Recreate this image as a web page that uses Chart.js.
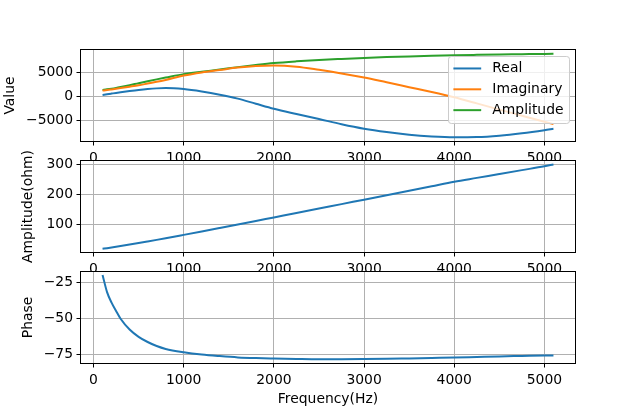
<!DOCTYPE html>
<html>
<head>
<meta charset="utf-8">
<script src="https://cdn.jsdelivr.net/npm/chart.js@4.4.0/dist/chart.umd.min.js"></script>
<style>
  body { margin: 0; background: #fff; }
  #wrap { position: relative; width: 640px; height: 409px; overflow: hidden; }
  canvas { position: absolute; left: 0; }
</style>
</head>
<body>
<div id="wrap">
  <canvas id="valueChart" width="640" height="175" style="top:0px"></canvas>
  <canvas id="ohmChart" width="640" height="145" style="top:140px"></canvas>
  <canvas id="phaseChart" width="640" height="154" style="top:255px"></canvas>
</div>
<script>
// values
const freq = [100, 150, 200, 250, 300, 400, 500, 600, 700, 800, 1000, 1200, 1400, 1600, 1800,
  2000, 2250, 2500, 2750, 3000, 3250, 3500, 3750, 4000, 4250, 4500, 4750, 5000, 5100];

const realPart = [340, 480, 620, 760, 890, 1140, 1370, 1560, 1700, 1770, 1560, 1060, 400, -420, -1480,
  -2520, -3600, -4640, -5720, -6650, -7350, -7900, -8250, -8420, -8380, -8100, -7600, -6950, -6650];

const imagPart = [1250, 1350, 1480, 1620, 1760, 2050, 2350, 2700, 3050, 3450, 4350, 5000, 5500, 6000, 6330,
  6450, 6200, 5550, 4800, 3940, 2950, 1950, 950, -140, -1400, -2700, -3950, -5200, -5700];

const amplitude = [1380, 1500, 1640, 1800, 1980, 2360, 2780, 3180, 3560, 3930, 4650, 5150, 5600, 6100, 6550,
  6950, 7300, 7580, 7800, 8000, 8170, 8320, 8450, 8560, 8640, 8710, 8770, 8830, 8850];

const amplitudeOhm = [17, 19.2, 21.5, 23.9, 26.3, 31.2, 36.3, 41.6, 47, 52.5, 63.8, 75.2, 86.8, 98.5, 110.3,
  122.2, 137, 152, 167, 182, 197, 212, 227, 242, 255, 268, 281, 294, 300];

const phase = [-19.5, -31.5, -38.8, -44.6, -50, -57.5, -62.6, -66.2, -69, -71, -73.3, -74.9, -76, -76.9, -77.4,
  -77.7, -78, -78.2, -78.2, -78.1, -77.9, -77.6, -77.3, -77, -76.6, -76.2, -75.9, -75.6, -75.5];

const freqTicks = [0, 1000, 2000, 3000, 4000, 5000];
const valueTicks = [-5000, 0, 5000];
const ohmTicks = [100, 200, 300];
const phaseTicks = [-75, -50, -25];

const FS = 13.9;
Chart.defaults.font.family = "'DejaVu Sans', sans-serif";
Chart.defaults.font.size = FS;
Chart.defaults.color = '#000';

function fmt(v) {
  return String(v).replace('-', '\u2212');
}

// white axes background + black frame like matplotlib
const framePlugin = {
  id: 'frame',
  beforeDraw(chart) {
    const { ctx, chartArea: a } = chart;
    ctx.save();
    ctx.fillStyle = '#fff';
    ctx.fillRect(a.left, a.top, a.right - a.left, a.bottom - a.top);
    ctx.restore();
  },
  afterDatasetsDraw(chart) {
    const { ctx, chartArea: a } = chart;
    ctx.save();
    ctx.strokeStyle = '#000';
    ctx.lineWidth = 1;
    ctx.strokeRect(Math.round(a.left) + 0.5, Math.round(a.top) + 0.5,
      Math.round(a.right - a.left) - 1, Math.round(a.bottom - a.top) - 1);
    ctx.restore();
  }
};

// legend box in the upper right of the axes
const legendPlugin = {
  id: 'boxLegend',
  afterDraw(chart) {
    const { ctx, chartArea: a } = chart;
    const sets = chart.data.datasets;
    ctx.save();
    ctx.font = FS + "px 'DejaVu Sans'";
    const textW = Math.max(...sets.map(d => ctx.measureText(d.label).width));
    const pad = 0.4 * FS, handleLen = 2 * FS, gap = 0.8 * FS, step = 1.5 * FS;
    const w = 2 * pad + handleLen + gap + textW;
    const h = 2 * pad + sets.length * FS + (sets.length - 1) * 0.5 * FS;
    const right = a.right - 0.5 * FS;
    const top = a.top + 0.5 * FS;
    const left = right - w;
    ctx.beginPath();
    ctx.roundRect(Math.round(left) + 0.5, Math.round(top) + 0.5, Math.round(w), Math.round(h), 2.8);
    ctx.fillStyle = 'rgba(255,255,255,0.8)';
    ctx.fill();
    ctx.strokeStyle = '#cccccc';
    ctx.lineWidth = 1;
    ctx.stroke();
    sets.forEach((d, i) => {
      const y = top + pad + FS / 2 + i * step;
      ctx.beginPath();
      ctx.moveTo(left + pad, y);
      ctx.lineTo(left + pad + handleLen, y);
      ctx.strokeStyle = d.borderColor;
      ctx.lineWidth = 2;
      ctx.stroke();
      ctx.fillStyle = '#000';
      ctx.textBaseline = 'middle';
      ctx.textAlign = 'left';
      ctx.fillText(d.label, left + pad + handleLen + gap, y);
    });
    ctx.restore();
  }
};

function panel(id, series, cfg) {
  const datasets = series.map(s => ({
    label: s.label,
    data: freq.map((f, i) => ({ x: f, y: s.values[i] })),
    borderColor: s.color,
    borderWidth: 2,
    pointRadius: 0,
    fill: false,
    cubicInterpolationMode: 'monotone'
  }));

  const grid = { color: '#b0b0b0', lineWidth: 1, tickLength: 3.5, tickColor: '#000', tickWidth: 1 };

  return new Chart(document.getElementById(id), {
    type: 'line',
    data: { datasets: datasets },
    plugins: cfg.legend ? [framePlugin, legendPlugin] : [framePlugin],
    options: {
      responsive: false,
      animation: false,
      events: [],
      devicePixelRatio: 1,
      layout: { padding: { top: cfg.padTop, right: 64, left: 0, bottom: 0 } },
      plugins: { legend: { display: false }, tooltip: { enabled: false } },
      scales: {
        x: {
          type: 'linear',
          position: 'bottom',
          min: -150,
          max: 5350,
          afterBuildTicks: sc => { sc.ticks = freqTicks.map(v => ({ value: v })); },
          afterFit: sc => { sc.height = cfg.xAxisH; },
          grid: grid,
          border: { display: false },
          ticks: { padding: 4.9, maxRotation: 0, autoSkip: false, callback: fmt },
          title: cfg.xTitle
            ? { display: true, text: cfg.xTitle, padding: { top: 0, bottom: 1.7 } }
            : { display: false }
        },
        y: {
          type: 'linear',
          min: cfg.yMin,
          max: cfg.yMax,
          afterBuildTicks: sc => { sc.ticks = cfg.yTicks.map(v => ({ value: v })); },
          afterFit: sc => { sc.width = 80; },
          grid: grid,
          border: { display: false },
          ticks: { padding: 3.5, autoSkip: false, callback: fmt },
          title: { display: true, text: cfg.yTitle, padding: { top: cfg.yTitlePad, bottom: 0 } }
        }
      }
    }
  });
}

panel('valueChart', [
  { label: 'Real', values: realPart, color: '#1f77b4' },
  { label: 'Imaginary', values: imagPart, color: '#ff7f0e' },
  { label: 'Amplitude', values: amplitude, color: '#2ca02c' }
], { padTop: 49, xAxisH: 33, yMin: -9400, yMax: 9850, yTicks: valueTicks, yTitle: 'Value', yTitlePad: 1.7, legend: true });

panel('ohmChart', [
  { label: 'Amplitude(ohm)', values: amplitudeOhm, color: '#1f77b4' }
], { padTop: 20, xAxisH: 32, yMin: 3, yMax: 315, yTicks: ohmTicks, yTitle: 'Amplitude(ohm)', yTitlePad: 19.7 });

panel('phaseChart', [
  { label: 'Phase', values: phase, color: '#1f77b4' }
], { padTop: 16, xAxisH: 45, yMin: -81.5, yMax: -16.8, yTicks: phaseTicks, yTitle: 'Phase', yTitlePad: 19.7, xTitle: 'Frequency(Hz)' });
</script>
</body>
</html>
